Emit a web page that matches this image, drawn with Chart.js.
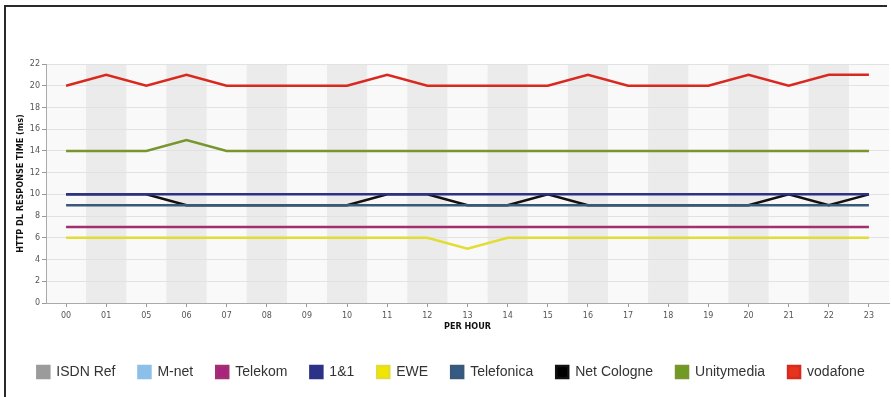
<!DOCTYPE html>
<html>
<head>
<meta charset="utf-8">
<script src="https://cdn.jsdelivr.net/npm/chart.js@4.4.1/dist/chart.umd.min.js"></script>
<style>
  html, body { margin: 0; padding: 0; background: #fff; }
  #wrap { position: relative; width: 891px; height: 397px; overflow: hidden; }
  #frame { position: absolute; left: 4px; top: 5px; width: 881px; height: 420px;
           border-left: 2px solid #2a2a2a; border-top: 2px solid #2a2a2a; }
  canvas { position: absolute; left: 0; top: 0; }
</style>
</head>
<body>
<div id="wrap">
  <div id="frame"></div>
  <canvas id="chart" width="891" height="397"></canvas>
</div>
<script>
// categorias del eje x (horas)
const hours = ['00', '01', '05', '06', '07', '08', '09', '10', '11', '12', '13',
               '14', '15', '16', '17', '18', '19', '20', '21', '22', '23'];

// valores por proveedor (ms)
const isdnRef    = [];
const mNet       = [];
const telekom    = [7, 7, 7, 7, 7, 7, 7, 7, 7, 7, 7, 7, 7, 7, 7, 7, 7, 7, 7, 7, 7];
const einsUndEins = [10, 10, 10, 10, 10, 10, 10, 10, 10, 10, 10, 10, 10, 10, 10, 10, 10, 10, 10, 10, 10];
const ewe        = [6, 6, 6, 6, 6, 6, 6, 6, 6, 6, 5, 6, 6, 6, 6, 6, 6, 6, 6, 6, 6];
const telefonica = [9, 9, 9, 9, 9, 9, 9, 9, 9, 9, 9, 9, 9, 9, 9, 9, 9, 9, 9, 9, 9];
const netCologne = [10, 10, 10, 9, 9, 9, 9, 9, 10, 10, 9, 9, 10, 9, 9, 9, 9, 9, 10, 9, 10];
const unitymedia = [14, 14, 14, 15, 14, 14, 14, 14, 14, 14, 14, 14, 14, 14, 14, 14, 14, 14, 14, 14, 14];
const vodafone   = [20, 21, 20, 21, 20, 20, 20, 20, 21, 20, 20, 20, 20, 21, 20, 20, 20, 21, 20, 21, 21];

// eje y
const yMin = 0;
const yMax = 22;
const yStep = 2;

const serie = (label, data, color, legendColor) => ({
    label: label,
    data: data,
    borderColor: color,
    backgroundColor: legendColor,
    borderWidth: 2.5,
    pointRadius: 0,
    tension: 0,
    fill: false
});

// bandas grises alternas detrás del área de trazado
const bandas = {
    id: 'bandas',
    beforeDraw(chart) {
        const { ctx, chartArea, scales } = chart;
        const x = scales.x;
        const paso = x.getPixelForValue(1) - x.getPixelForValue(0);
        ctx.save();
        ctx.fillStyle = '#f9f9f9';
        ctx.fillRect(chartArea.left, chartArea.top, chartArea.right - chartArea.left, chartArea.bottom - chartArea.top);
        ctx.fillStyle = '#ebebeb';
        hours.forEach((h, i) => {
            if (i % 2 === 1) {
                const c = x.getPixelForValue(i);
                ctx.fillRect(c - paso / 2, chartArea.top, paso, chartArea.bottom - chartArea.top);
            }
        });
        ctx.restore();
    }
};

const tickFont = { family: 'DejaVu Sans', size: 8 };
const titleFont = { family: "'DejaVu Sans Condensed', 'Liberation Sans'", size: 9, weight: 'bold' };

new Chart(document.getElementById('chart'), {
    type: 'line',
    data: {
        labels: hours,
        datasets: [
            serie('ISDN Ref', isdnRef, '#9b9b9b', '#9b9b9b'),
            serie('M-net', mNet, '#8cc0e8', '#8cc0e8'),
            serie('Telekom', telekom, '#a3306e', '#a8247e'),
            serie('1&1', einsUndEins, '#2d3287', '#2b3388'),
            serie('EWE', ewe, '#e3dc34', '#f0e600'),
            serie('Telefonica', telefonica, '#3a5878', '#355a85'),
            serie('Net Cologne', netCologne, '#111111', '#000000'),
            serie('Unitymedia', unitymedia, '#78952e', '#6e9b22'),
            serie('vodafone', vodafone, '#d9281e', '#e8341c')
        ]
    },
    options: {
        responsive: false,
        animation: false,
        layout: { padding: { top: 64, left: 13, right: 2, bottom: 8 } },
        plugins: {
            legend: {
                position: 'bottom',
                labels: {
                    boxWidth: 12,
                    boxHeight: 12,
                    padding: 23,
                    color: '#333',
                    font: { family: 'Liberation Sans', size: 14 }
                }
            },
            tooltip: { enabled: false }
        },
        scales: {
            x: {
                offset: true,
                grid: { display: true, drawOnChartArea: false, offset: false, tickLength: 4, color: '#999' },
                border: { color: '#aaa' },
                ticks: { color: '#555', font: tickFont, padding: 4, maxRotation: 0, autoSkip: false },
                title: { display: true, text: 'PER HOUR', color: '#111', font: titleFont, padding: { top: 0, bottom: 10 } },
                afterFit(scale) { scale.height = 39; }
            },
            y: {
                min: yMin,
                max: yMax,
                ticks: { stepSize: yStep, color: '#555', font: tickFont, padding: 2 },
                grid: { color: '#e2e2e2', tickLength: 4, tickColor: '#999' },
                border: { color: '#aaa' },
                title: { display: true, text: 'HTTP DL RESPONSE TIME (ms)', color: '#111', font: titleFont, padding: 2 },
                afterFit(scale) { scale.width = 33; }
            }
        }
    },
    plugins: [bandas]
});
</script>
</body>
</html>
